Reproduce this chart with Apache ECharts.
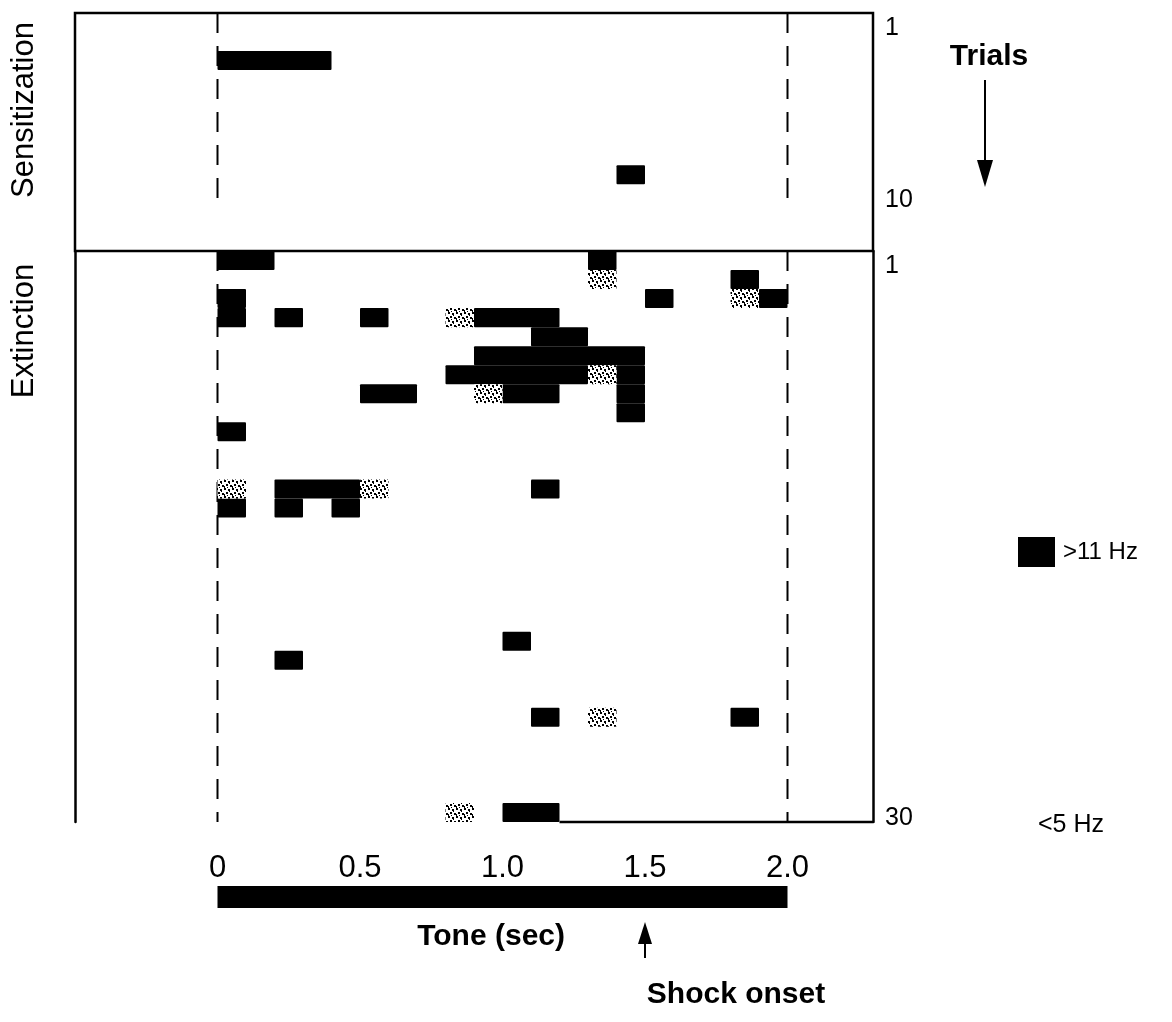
<!DOCTYPE html>
<html>
<head>
<meta charset="utf-8">
<script src="https://cdn.jsdelivr.net/npm/echarts@6/dist/echarts.min.js"></script>
<style>
  html, body { margin: 0; padding: 0; background: #fff; }
  #chart { width: 1172px; height: 1022px; }
</style>
</head>
<body>
<div id="chart"></div>
<script>
// Time axis (s) tick labels
const timeTicks = [0, 0.5, 1.0, 1.5, 2.0];
// Tone on / off (s) and shock onset (s)
const toneWindow = [0, 2.0];
const shockOnset = 1.5;
// Trial labels on the right of each panel
const sensitizationTrialTicks = [1, 10];
const extinctionTrialTicks = [1, 30];
const sensitizationTrials = 10;
const extinctionTrials = 30;

// 100 ms bins above 11 Hz: [bin start (s), bin end (s), trial]
const sensitizationHigh = [
  [0.0, 0.4, 3],
  [1.4, 1.5, 9]
];
const extinctionHigh = [
  [0.0, 0.2, 1], [1.3, 1.4, 1],
  [1.8, 1.9, 2],
  [0.0, 0.1, 3], [1.5, 1.6, 3], [1.9, 2.0, 3],
  [0.0, 0.1, 4], [0.2, 0.3, 4], [0.5, 0.6, 4], [0.9, 1.2, 4],
  [1.1, 1.3, 5],
  [0.9, 1.5, 6],
  [0.8, 1.3, 7], [1.4, 1.5, 7],
  [0.5, 0.7, 8], [1.0, 1.2, 8], [1.4, 1.5, 8],
  [1.4, 1.5, 9],
  [0.0, 0.1, 10],
  [0.2, 0.5, 13], [1.1, 1.2, 13],
  [0.0, 0.1, 14], [0.2, 0.3, 14], [0.4, 0.5, 14],
  [1.0, 1.1, 21],
  [0.2, 0.3, 22],
  [1.1, 1.2, 25], [1.8, 1.9, 25],
  [1.0, 1.2, 30]
];
// 100 ms bins between 5 and 11 Hz (stippled)
const extinctionMid = [
  [1.3, 1.4, 2],
  [1.8, 1.9, 3],
  [0.8, 0.9, 4],
  [1.3, 1.4, 7],
  [0.9, 1.0, 8],
  [0.0, 0.1, 13], [0.5, 0.6, 13],
  [1.3, 1.4, 25],
  [0.8, 0.9, 30]
];

const FONT = '"Liberation Sans", Arial, sans-serif';
const INK = '#000';

// Coarse stipple tile for the intermediate-rate bins
const stipple = document.createElement('canvas');
stipple.width = 8; stipple.height = 8;
(function () {
  const c = stipple.getContext('2d');
  c.fillStyle = '#fff'; c.fillRect(0, 0, 8, 8);
  c.fillStyle = INK;
  [[0, 0, 2, 2], [4, 1, 2, 2], [5, 3, 1, 1], [2, 4, 2, 2], [6, 5, 2, 2], [0, 6, 1, 2], [3, 7, 1, 1]]
    .forEach(r => c.fillRect(r[0], r[1], r[2], r[3]));
})();

function cellRenderer(fill) {
  return function (params, api) {
    const a = api.coord([api.value(0), api.value(2) - 0.5]);
    const b = api.coord([api.value(1), api.value(2) + 0.5]);
    const cs = params.coordSys;
    const rect = echarts.graphic.clipRectByRect(
      { x: Math.min(a[0], b[0]), y: Math.min(a[1], b[1]),
        width: Math.abs(b[0] - a[0]), height: Math.abs(b[1] - a[1]) },
      { x: cs.x, y: cs.y, width: cs.width, height: cs.height });
    if (!rect) return null;
    rect.r = 1;
    return { type: 'rect', shape: rect, style: { fill: fill } };
  };
}

function toneBarRenderer(params, api) {
  const a = api.coord([api.value(0), 0]);
  const b = api.coord([api.value(1), 1]);
  return { type: 'rect', shape: { x: a[0], y: b[1], width: b[0] - a[0], height: a[1] - b[1] },
           style: { fill: INK } };
}

// Dashed tone on/off markers spanning a panel's trials
function toneMarkers(xIdx, yIdx, lastTrial) {
  return toneWindow.map(t => ({
    type: 'line', xAxisIndex: xIdx, yAxisIndex: yIdx, z: 1, silent: true,
    symbol: 'none', clip: false,
    lineStyle: { color: INK, width: 2, type: [20, 13] },
    data: [[t, 0.5], [t, lastTrial + 0.5]]
  }));
}

const xBase = { type: 'value', min: -0.5, max: 2.3, show: false, splitLine: { show: false } };
const hiddenY = { type: 'value', inverse: true, axisLine: { show: false }, axisTick: { show: false },
                  axisLabel: { show: false }, splitLine: { show: false } };
const frameLine = { show: true, onZero: false, lineStyle: { color: INK, width: 2.5 } };
const trialLabel = { color: INK, fontFamily: FONT, fontSize: 25, margin: 12,
                     verticalAlign: 'top', lineHeight: 12 };

const chart = echarts.init(document.getElementById('chart'), null, { renderer: 'canvas' });

chart.setOption({
  backgroundColor: '#fff',
  animation: false,
  grid: [
    { left: 75, top: 13, width: 798, height: 238, show: true, borderColor: INK, borderWidth: 2.5, backgroundColor: 'transparent' },
    { left: 75, top: 251, width: 798, height: 571 },
    { left: 75, top: 886, width: 798, height: 22 }
  ],
  xAxis: [
    Object.assign({ gridIndex: 0 }, xBase),
    Object.assign({ gridIndex: 1 }, xBase),
    {
      gridIndex: 2, type: 'value', min: -0.5, max: 2.3, position: 'top',
      axisLine: { show: false }, axisTick: { show: false }, splitLine: { show: false },
      axisLabel: {
        customValues: timeTicks, color: INK, fontFamily: FONT, fontSize: 31, margin: 2,
        formatter: v => (v === 0 ? '0' : v.toFixed(1))
      }
    }
  ],
  yAxis: [
    Object.assign({}, hiddenY, { gridIndex: 0, min: 0.5, max: 13 }),
    Object.assign({}, hiddenY, { gridIndex: 0, min: 0.5, max: 13, position: 'right',
      axisLabel: Object.assign({ customValues: sensitizationTrialTicks }, trialLabel) }),
    Object.assign({}, hiddenY, { gridIndex: 1, min: 0.5, max: extinctionTrials + 0.5,
      position: 'left', axisLine: frameLine }),
    Object.assign({}, hiddenY, { gridIndex: 1, min: 0.5, max: extinctionTrials + 0.5, position: 'right',
      axisLine: frameLine,
      axisLabel: Object.assign({ customValues: extinctionTrialTicks }, trialLabel) }),
    { gridIndex: 2, type: 'value', min: 0, max: 1, show: false, splitLine: { show: false } }
  ],
  legend: [
    {
      left: 1013, top: 532, orient: 'vertical', icon: 'rect', itemWidth: 37, itemHeight: 30,
      selectedMode: false, data: ['>11 Hz'],
      textStyle: { color: INK, fontFamily: FONT, fontSize: 24, padding: [0, 0, 0, 3] }
    },
    {
      left: 988, top: 805, orient: 'vertical', icon: 'rect', itemWidth: 37, itemHeight: 30,
      selectedMode: false, data: ['<5 Hz'],
      textStyle: { color: INK, fontFamily: FONT, fontSize: 25, padding: [0, 0, 0, 3] }
    }
  ],
  series: [
    ...toneMarkers(0, 0, sensitizationTrials),
    ...toneMarkers(1, 2, extinctionTrials),
    {
      type: 'line', xAxisIndex: 1, yAxisIndex: 2, silent: true, symbol: 'none', clip: false, z: 1,
      lineStyle: { color: INK, width: 2.5 },
      data: [[1.2, extinctionTrials + 0.5], [2.3, extinctionTrials + 0.5]]
    },
    {
      name: '>11 Hz', type: 'custom', xAxisIndex: 0, yAxisIndex: 0,
      itemStyle: { color: INK }, renderItem: cellRenderer(INK), data: sensitizationHigh
    },
    {
      name: '>11 Hz', type: 'custom', xAxisIndex: 1, yAxisIndex: 2,
      itemStyle: { color: INK }, renderItem: cellRenderer(INK), data: extinctionHigh
    },
    {
      name: '5–11 Hz', type: 'custom', xAxisIndex: 1, yAxisIndex: 2,
      itemStyle: { color: '#888' },
      renderItem: cellRenderer({ image: stipple, repeat: 'repeat' }), data: extinctionMid
    },
    {
      name: '<5 Hz', type: 'custom', xAxisIndex: 1, yAxisIndex: 2,
      itemStyle: { color: '#fff' }, renderItem: cellRenderer('#fff'), data: []
    },
    {
      name: 'Tone', type: 'custom', xAxisIndex: 2, yAxisIndex: 4,
      renderItem: toneBarRenderer, data: [toneWindow]
    }
  ]
});

// Annotations placed from the time axis
const shockX = chart.convertToPixel({ xAxisIndex: 2 }, shockOnset);
const toneMidX = chart.convertToPixel({ xAxisIndex: 2 }, 0.96);
const bold = { fontFamily: FONT, fontWeight: 'bold', fontSize: 30, fill: INK, align: 'center', verticalAlign: 'middle' };
const regular = { fontFamily: FONT, fontSize: 31, fill: INK, align: 'center', verticalAlign: 'middle' };

chart.setOption({
  graphic: [
    { type: 'text', x: 24, y: 110, rotation: Math.PI / 2, style: Object.assign({ text: 'Sensitization' }, regular) },
    { type: 'text', x: 24, y: 331, rotation: Math.PI / 2, style: Object.assign({ text: 'Extinction' }, regular) },
    { type: 'text', x: 989, y: 57, style: Object.assign({ text: 'Trials' }, bold) },
    { type: 'line', shape: { x1: 985, y1: 80, x2: 985, y2: 165 }, style: { stroke: INK, lineWidth: 2 } },
    { type: 'polygon', shape: { points: [[977, 160], [993, 160], [985, 187]] }, style: { fill: INK } },
    { type: 'text', x: toneMidX, y: 937, style: Object.assign({ text: 'Tone (sec)' }, bold) },
    { type: 'line', shape: { x1: shockX, y1: 958, x2: shockX, y2: 938 }, style: { stroke: INK, lineWidth: 2 } },
    { type: 'polygon', shape: { points: [[shockX - 7, 944], [shockX + 7, 944], [shockX, 922]] }, style: { fill: INK } },
    { type: 'text', x: shockX + 91, y: 995, style: Object.assign({ text: 'Shock onset' }, bold) }
  ]
});
</script>
</body>
</html>
